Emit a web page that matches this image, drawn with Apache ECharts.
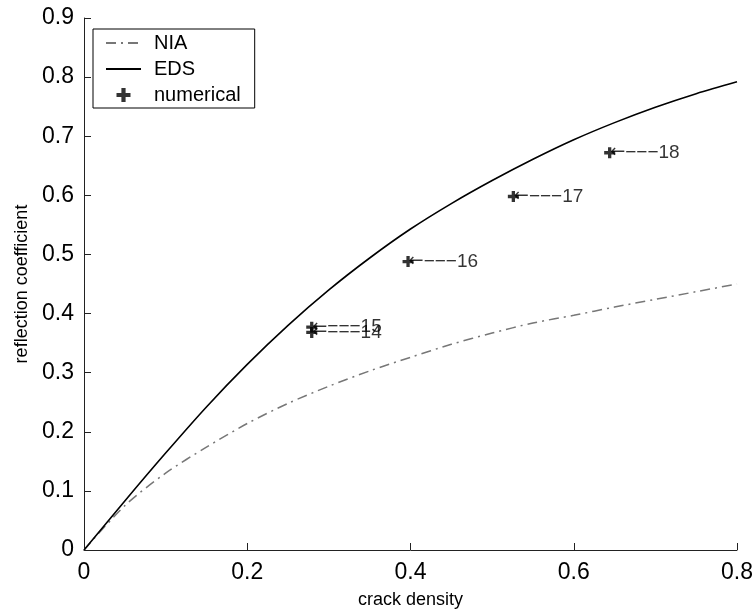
<!DOCTYPE html>
<html>
<head>
<meta charset="UTF-8">
<title>reflection coefficient</title>
<script src="https://cdn.jsdelivr.net/npm/echarts@6/dist/echarts.min.js"></script>
<style>
  html, body { margin: 0; padding: 0; background: #fff; }
  #chart { width: 752px; height: 613px; }
</style>
</head>
<body>
<div id="chart"></div>
<script>
// crack density values
const xGrid = [0, 0.05, 0.1, 0.15, 0.2, 0.25, 0.3, 0.35, 0.4, 0.45, 0.5, 0.55, 0.6, 0.65, 0.7, 0.75, 0.8]
const nia = [0, 0.075, 0.130, 0.174, 0.214, 0.248, 0.277, 0.303, 0.326, 0.348, 0.367, 0.384, 0.397, 0.411, 0.424, 0.437, 0.450]
const eds = [0, 0.083, 0.164, 0.242, 0.314, 0.380, 0.440, 0.494, 0.543, 0.586, 0.625, 0.661, 0.694, 0.723, 0.749, 0.772, 0.792]

// numerical points and their run numbers
const numX = [0.279, 0.279, 0.397, 0.526, 0.644]
const numY = [0.377, 0.368, 0.488, 0.598, 0.672]
const numLabel = ['15', '14', '16', '17', '18']

const xTicks = [0, 0.2, 0.4, 0.6, 0.8]

const font = 'Liberation Sans, Arial, Helvetica, sans-serif'
const plusPath = 'path://M3.5,0H6.5V3.5H10V6.5H6.5V10H3.5V6.5H0V3.5H3.5Z'

const chart = echarts.init(document.getElementById('chart'))

chart.setOption({
  animation: false,
  backgroundColor: '#fff',
  grid: { left: 84, right: 15, top: 18, bottom: 63, containLabel: false, outerBoundsMode: 'none' },
  legend: {
    left: 93,
    top: 29,
    orient: 'vertical',
    backgroundColor: '#fff',
    borderColor: '#000',
    borderWidth: 1,
    borderRadius: 0,
    padding: [4, 14, 3, 12],
    itemWidth: 35,
    itemHeight: 14,
    itemGap: 6,
    textStyle: { fontFamily: font, fontSize: 20, color: '#000', padding: [0, 0, 0, 8] },
    data: [
      { name: 'NIA', itemStyle: { opacity: 0 } },
      { name: 'EDS', itemStyle: { opacity: 0 } },
      { name: 'numerical', icon: plusPath, itemStyle: { color: '#000' } }
    ]
  },
  xAxis: {
    type: 'value',
    min: 0,
    max: 0.8,
    interval: 0.2,
    name: 'crack density',
    nameLocation: 'middle',
    nameGap: 41,
    nameTextStyle: { fontFamily: font, fontSize: 18, color: '#000' },
    axisLine: { lineStyle: { color: '#222', width: 1 } },
    axisTick: { inside: true, length: 7, lineStyle: { color: '#222' } },
    axisLabel: {
      fontFamily: font, fontSize: 23, color: '#000', margin: 11,
      formatter: v => (xTicks.indexOf(+v.toFixed(1)) >= 0 ? String(+v.toFixed(1)) : '')
    },
    splitLine: { show: false }
  },
  yAxis: {
    type: 'value',
    min: 0,
    max: 0.9,
    interval: 0.1,
    name: 'reflection coefficient',
    nameLocation: 'middle',
    nameGap: 53,
    nameTextStyle: { fontFamily: font, fontSize: 18, color: '#000' },
    axisLine: { show: true, lineStyle: { color: '#222', width: 1 } },
    axisTick: { show: true, inside: true, length: 7, lineStyle: { color: '#222' } },
    axisLabel: {
      fontFamily: font, fontSize: 23, color: '#000', margin: 10,
      formatter: v => String(+v.toFixed(1))
    },
    splitLine: { show: false }
  },
  series: [
    {
      name: 'NIA',
      type: 'line',
      smooth: 0.3,
      showSymbol: false,
      symbol: 'none',
      data: xGrid.map((x, i) => [x, nia[i]]),
      lineStyle: { color: '#777', width: 1.5, type: [10, 5, 2, 5] },
      itemStyle: { color: '#777' }
    },
    {
      name: 'EDS',
      type: 'line',
      smooth: 0.3,
      showSymbol: false,
      symbol: 'none',
      data: xGrid.map((x, i) => [x, eds[i]]),
      lineStyle: { color: '#000', width: 1.6 },
      itemStyle: { color: '#000' }
    },
    {
      name: 'numerical',
      type: 'scatter',
      symbol: plusPath,
      symbolSize: 11,
      itemStyle: { color: '#000' },
      data: numX.map((x, i) => ({ value: [x, numY[i]], name: numLabel[i] })),
      label: {
        show: true,
        position: 'right',
        distance: -5,
        color: '#000',
        formatter: p => '{a|\u2190}{b|\u2212\u2212\u2212' + p.name + '}',
        rich: {
          a: { fontFamily: 'DejaVu Sans', fontSize: 18, color: '#000' },
          b: { fontFamily: font, fontSize: 19, color: '#000' }
        }
      },
      z: 5
    }
  ]
})
</script>
</body>
</html>
